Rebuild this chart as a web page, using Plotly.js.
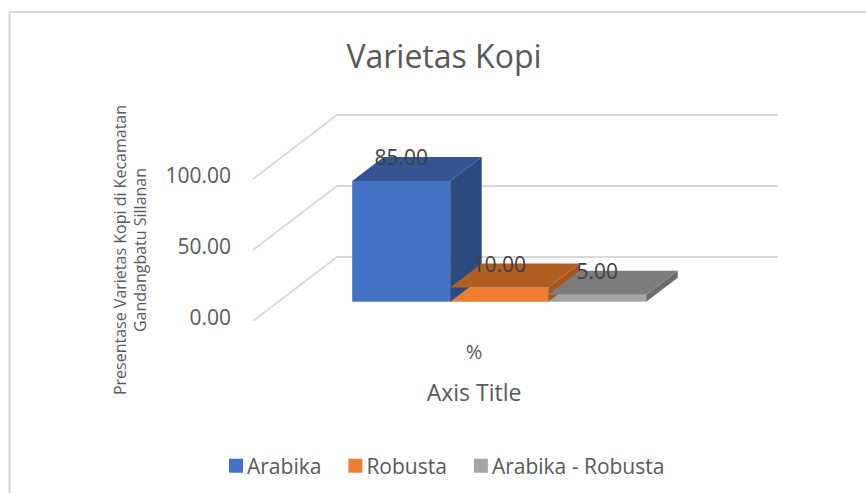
<!DOCTYPE html>
<html><head><meta charset="utf-8">
<script src="https://cdn.plot.ly/plotly-3.0.1.min.js"></script>
<style>html,body{margin:0;padding:0;background:#fff;overflow:hidden}</style>
</head><body><div id="chart" style="width:866px;height:493px"></div>
<script>
const seriesNames = ["Arabika", "Robusta", "Arabika - Robusta"];
const seriesValues = [85, 10, 5];
const category = "%";
const yTicks = [0, 50, 100];
const frontColors = ["#4472C4", "#ED7D31", "#A5A5A5"];
const topColors = ["#335593", "#B15E25", "#7C7C7C"];
const sideColors = ["#2A4A80", "#A3561F", "#6B6B6B"];

// page geometry (pixels): margins, front wall of the chart, extended drawing box
const W = 866, H = 493, m = 20, mB = 90;
const gsW = W - 2 * m, gsH = H - m - mB;
const domX = (a, b) => [(a - m) / gsW, (b - m) / gsW];
const domY = (top, bottom) => [(H - mB - bottom) / gsH, (H - mB - top) / gsH];
const pxPerCat = 98, pxPerVal = 1.42, cat0Px = 327, baseY = 321;
const box = {l: 243, r: 790, t: 100, b: baseY};

// oblique projection of the 3-D box, in axis units
const wallDX = 84 / pxPerCat, wallDY = 64 / pxPerVal;
const near = 0.3, far = 0.675, labelDepth = 0.63;
const px = (u, d) => u + d * wallDX;
const py = (v, d) => v + d * wallDY;
const gridLeft = (253 - cat0Px) / pxPerCat, gridRight = (778 - cat0Px) / pxPerCat;

const onBox = {xaxis: "x2", yaxis: "y2"};
const traces = [{type: "scatter", mode: "none", x: [1.5], y: [0], showlegend: false, hoverinfo: "skip"}];
// front faces
seriesValues.forEach((v, i) => traces.push({...onBox,
  type: "bar", name: seriesNames[i], x: [px(i + 0.5, near)], y: [v], base: [py(0, near)], width: [1],
  marker: {color: frontColors[i]}, hoverinfo: "name+y"
}));
// side & top faces
seriesValues.forEach((v, i) => {
  const h = py(0, near), L = px(i, near), R = px(i + 1, near), dx = (far - near) * wallDX, dy = (far - near) * wallDY;
  traces.push({...onBox, type: "scatter", mode: "none", fill: "toself", fillcolor: sideColors[i], showlegend: false, hoverinfo: "skip",
    x: [R, R + dx, R + dx, R, R], y: [h, h + dy, h + v + dy, h + v, h]});
  traces.push({...onBox, type: "scatter", mode: "none", fill: "toself", fillcolor: topColors[i], showlegend: false, hoverinfo: "skip",
    x: [L, L + dx, R + dx, R, L], y: [h + v, h + v + dy, h + v + dy, h + v, h + v]});
});
// data labels
traces.push({...onBox, type: "scatter", mode: "text", showlegend: false, hoverinfo: "skip",
  x: seriesValues.map((v, i) => px(i + 0.5, near)),
  y: seriesValues.map(v => py(v, labelDepth)),
  text: seriesValues.map(v => v.toFixed(2)), textposition: "middle center",
  textfont: {family: "Open Sans", size: 21, color: "#404040"}});

// wall + floor grid lines, beneath the bars
const gridShapes = yTicks.map(t => ({
  type: "path", xref: "x2", yref: "y2", layer: "below",
  path: `M ${gridLeft} ${py(t, 0)} L ${px(gridLeft, 1)} ${py(t, 1)} L ${gridRight} ${py(t, 1)}`,
  line: {color: "#D9D9D9", width: 2}
}));
const frame = {type: "path", xref: "paper", yref: "paper", layer: "below",
  path: `M ${(9.5 - m) / gsW} ${-(mB + 4) / gsH} L ${(9.5 - m) / gsW} ${(H - mB - 12) / gsH} L ${(W - m) / gsW} ${(H - mB - 12) / gsH}`,
  line: {color: "#D9D9D9", width: 2}};

const layout = {
  width: W, height: H, paper_bgcolor: "#fff", plot_bgcolor: "rgba(0,0,0,0)",
  margin: {l: m, r: m, t: m, b: mB},
  barmode: "overlay",
  font: {family: "Open Sans", color: "#595959"},
  title: {text: "Varietas Kopi", x: 444 / W, xanchor: "center", y: 1 - 57 / H, yanchor: "middle", font: {size: 32, color: "#595959"}},
  xaxis: {domain: domX(253, 695), range: [-0.755, 3.755], anchor: "y", tickvals: [1.5], ticktext: [category], ticklen: 0, ticklabelstandoff: 17,
    showgrid: false, zeroline: false, showline: false, tickfont: {size: 20, color: "#595959"},
    title: {text: "Axis Title", standoff: 20, font: {size: 23, color: "#595959"}}},
  yaxis: {domain: domY(179, 321), range: [0, 100], anchor: "x", tickvals: yTicks, ticktext: yTicks.map(t => t.toFixed(2)), ticklen: 0, ticklabelstandoff: 21, ticklabelshift: -3,
    showgrid: false, zeroline: false, showline: false, tickfont: {size: 21, color: "#595959"},
    title: {text: "Presentase Varietas Kopi di Kecamatan<br>Gandangbatu Sillanan", standoff: 14, font: {size: 16, color: "#595959"}}},
  xaxis2: {domain: domX(box.l, box.r), range: [(box.l - cat0Px) / pxPerCat, (box.r - cat0Px) / pxPerCat], anchor: "y2", visible: false},
  yaxis2: {domain: domY(box.t, box.b), range: [0, (box.b - box.t) / pxPerVal], anchor: "x2", visible: false},
  legend: {orientation: "h", xref: "container", yref: "container", x: 216 / W, xanchor: "left", y: 1 - 466 / H, yanchor: "middle",
    font: {size: 21, color: "#595959"}, bgcolor: "rgba(0,0,0,0)"},
  shapes: [frame, ...gridShapes]
};
Plotly.newPlot("chart", traces, layout, {displayModeBar: false}).then(gd => {
  gd.querySelectorAll(".legend .legendtext").forEach(t => t.setAttribute("x", 31));
  gd.querySelectorAll(".legend .legendpoints path").forEach(p => p.setAttribute("d", "M7,7H-7V-7H7Z"));
});
</script></body></html>
